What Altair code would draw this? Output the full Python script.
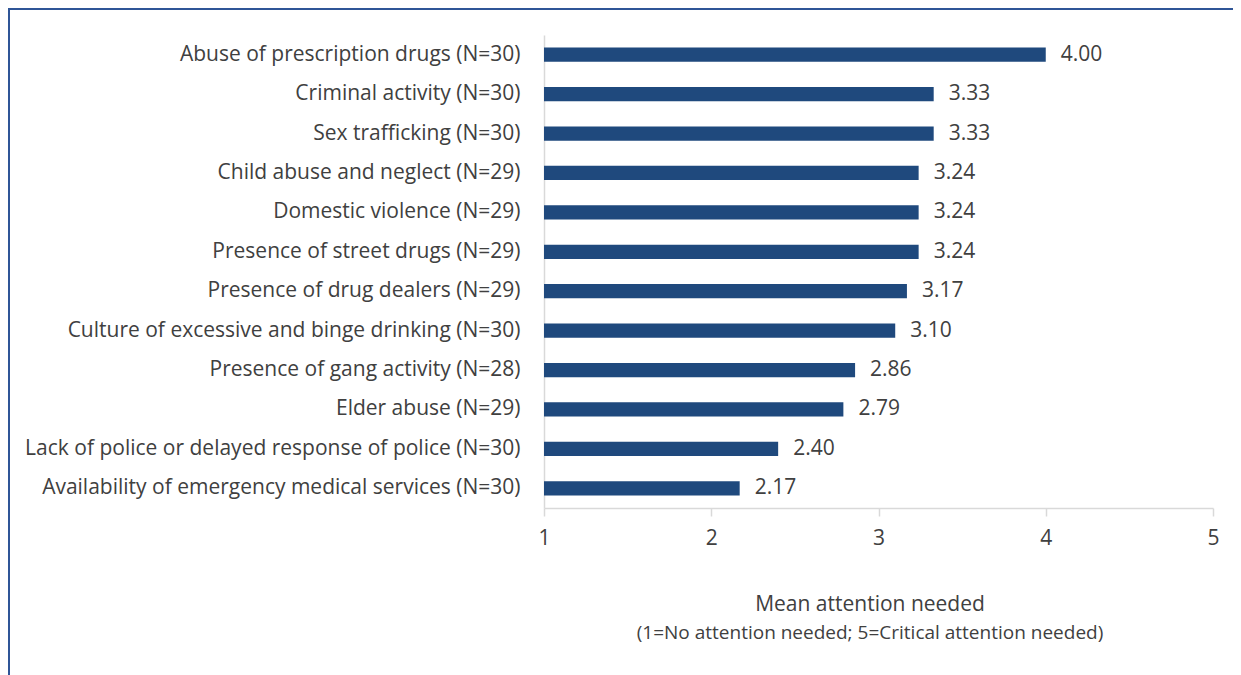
import altair as alt
import pandas as pd

categories = [
    "Abuse of prescription drugs (N=30)",
    "Criminal activity (N=30)",
    "Sex trafficking (N=30)",
    "Child abuse and neglect (N=29)",
    "Domestic violence (N=29)",
    "Presence of street drugs (N=29)",
    "Presence of drug dealers (N=29)",
    "Culture of excessive and binge drinking (N=30)",
    "Presence of gang activity (N=28)",
    "Elder abuse (N=29)",
    "Lack of police or delayed response of police (N=30)",
    "Availability of emergency medical services (N=30)",
]
values = [4.00, 3.33, 3.33, 3.24, 3.24, 3.24, 3.17, 3.10, 2.86, 2.79, 2.40, 2.17]
x_ticks = [1, 2, 3, 4, 5]
axis_title = "Mean attention needed"
axis_subtitle = "(1=No attention needed; 5=Critical attention needed)"

df = pd.DataFrame({"category": categories, "value": values})
df["label"] = [f"{v:.2f}" for v in values]

FONT = "Open Sans"
TXT = "#404040"
FS = 21

y_enc = alt.Y(
    "category:N",
    sort=categories,
    title=None,
    scale=alt.Scale(paddingInner=0.64, paddingOuter=0.32),
    axis=alt.Axis(
        labelFont=FONT, labelFontSize=FS, labelColor=TXT, labelPadding=24,
        ticks=False, domainColor="#D9D9D9", domainWidth=1.5, labelLimit=700,
    ),
)
x_scale = alt.Scale(domain=[1, 5], zero=False, nice=False)

bars = alt.Chart(df).mark_bar(color="#1F497D").encode(
    x=alt.X(
        "value:Q",
        scale=x_scale,
        title=None,
        axis=alt.Axis(
            values=x_ticks, format="d", grid=False, labelFont=FONT, labelFontSize=FS,
            labelColor=TXT, labelPadding=11, labelFlush=False, tickColor="#D9D9D9",
            tickSize=8, domainColor="#D9D9D9", domainWidth=1.5, tickWidth=1.5,
        ),
    ),
    x2=alt.datum(1),
    y=y_enc,
)

labels = alt.Chart(df).mark_text(
    align="left", baseline="middle", dx=15, font=FONT, fontSize=FS, color=TXT
).encode(
    x=alt.X("value:Q", scale=x_scale),
    y=alt.Y("category:N", sort=categories),
    text="label:N",
)

title_df = pd.DataFrame({"t": [axis_title], "s": [axis_subtitle]})
title_text = alt.Chart(title_df).mark_text(
    align="center", baseline="middle", font=FONT, fontSize=21, color=TXT
).encode(x=alt.value(326), y=alt.value(570), text="t:N")
subtitle_text = alt.Chart(title_df).mark_text(
    align="center", baseline="middle", font=FONT, fontSize=19, color=TXT
).encode(x=alt.value(326), y=alt.value(598), text="s:N")

frame_left = alt.Chart(title_df).mark_rule(color="#2F5597", strokeWidth=2, clip=False).encode(
    x=alt.value(-535), y=alt.value(-26), y2=alt.value(640)
)
frame_top = alt.Chart(title_df).mark_rule(color="#2F5597", strokeWidth=2, clip=False).encode(
    x=alt.value(-536), x2=alt.value(690), y=alt.value(-26)
)

chart = alt.layer(bars, labels, title_text, subtitle_text, frame_left, frame_top).properties(
    width=669,
    height=473,
    autosize=alt.AutoSizeParams(type="none"),
    padding={"left": 536, "top": 27, "right": 20, "bottom": 167},
    background="white",
).configure_view(stroke=None)

chart.save("out.html", embed_options={"renderer": "svg", "actions": False})
